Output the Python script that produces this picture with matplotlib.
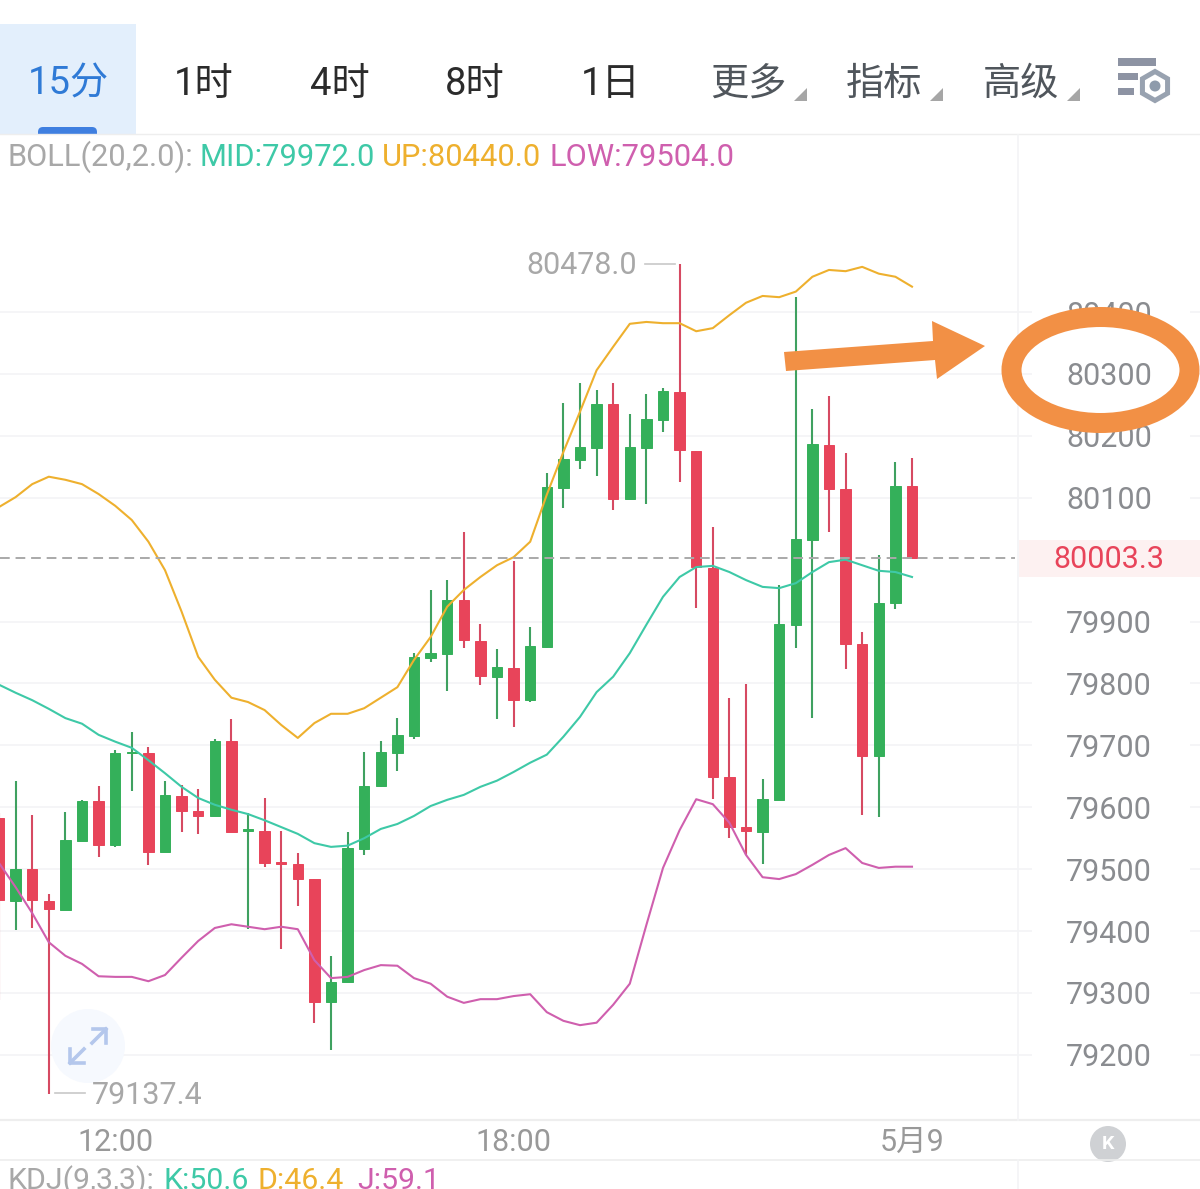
#!/usr/bin/python3
import numpy as np
import matplotlib
matplotlib.use('Agg')
import matplotlib.pyplot as plt
from matplotlib.patches import Rectangle, Ellipse, Polygon, Circle, RegularPolygon, FancyBboxPatch

plt.rcParams['font.family'] = ['Roboto', 'Noto Sans CJK SC', 'DejaVu Sans']

# candles, oldest first
Open = [79583, 79449, 79500, 79449, 79434, 79546, 79610, 79539, 79688, 79688, 79528, 79618, 79594, 79586,
        79707, 79562, 79562, 79512, 79508, 79484, 79286, 79318, 79533, 79634, 79688, 79715, 79841, 79848,
        79935, 79869, 79811, 79825, 79773, 79859, 80116, 80161, 80181, 80252, 80098, 80181, 80226, 80271,
        80176, 79987, 79649, 79568, 79560, 79612, 79895, 80032, 80185, 80114, 79864, 79683, 79930, 80119]
Close = [79450, 79500, 79450, 79436, 79547, 79610, 79539, 79688, 79689, 79528, 79620, 79594, 79586, 79707,
         79560, 79565, 79510, 79508, 79484, 79286, 79318, 79534, 79634, 79689, 79717, 79843, 79849, 79935,
         79870, 79812, 79827, 79773, 79861, 80117, 80163, 80182, 80252, 80098, 80182, 80227, 80273, 80177,
         79988, 79649, 79568, 79562, 79613, 79896, 80034, 80187, 80114, 79864, 79683, 79930, 80119, 80003.3]
High = [79591, 79643, 79588, 79460, 79592, 79612, 79634, 79693, 79722, 79697, 79643, 79636, 79630, 79710,
        79743, 79591, 79615, 79562, 79526, 79484, 79360, 79560, 79689, 79707, 79744, 79849, 79951, 79967,
        80045, 79896, 79856, 79998, 79891, 80140, 80253, 80286, 80274, 80286, 80235, 80268, 80277, 80478.0,
        80176, 80053, 79777, 79799, 79646, 79959, 80424, 80243, 80265, 80172, 79883, 80008, 80158, 80164]
Low = [79289, 79402, 79405, 79137.4, 79434, 79546, 79520, 79536, 79626, 79507, 79528, 79560, 79557, 79586,
       79560, 79403, 79504, 79371, 79441, 79252, 79208, 79318, 79523, 79633, 79659, 79710, 79835, 79788,
       79857, 79798, 79743, 79730, 79770, 79857, 80084, 80147, 80135, 80080, 80098, 80090, 80206, 80126,
       79922, 79613, 79550, 79523, 79508, 79612, 79857, 79744, 80045, 79823, 79588, 79584, 79920, 80003.3]

# bollinger bands
Up = [80085, 80101, 80122, 80134, 80129, 80122, 80106, 80087, 80064, 80029, 79983, 79916, 79843, 79806,
      79777, 79770, 79757, 79733, 79712, 79736, 79751, 79751, 79760, 79777, 79794, 79838, 79875, 79924,
      79951, 79972, 79991, 80004, 80029, 80105, 80174, 80239, 80306, 80344, 80381, 80384, 80382, 80382,
      80369, 80374, 80395, 80415, 80426, 80424, 80433, 80457, 80468, 80466, 80473, 80462, 80457, 80441]
Mid = [79798, 79785, 79773, 79759, 79744, 79735, 79717, 79706, 79696, 79676, 79655, 79633, 79615, 79604,
       79596, 79589, 79579, 79568, 79557, 79542, 79536, 79538, 79550, 79565, 79573, 79586, 79602, 79612,
       79620, 79633, 79643, 79657, 79672, 79685, 79714, 79746, 79786, 79811, 79849, 79895, 79940, 79972,
       79988, 79990, 79980, 79967, 79956, 79954, 79962, 79980, 79996, 80000, 79991, 79982, 79980, 79972]
Lower = [79510, 79471, 79429, 79382, 79360, 79347, 79327, 79326, 79326, 79319, 79329, 79357, 79384, 79405,
         79411, 79407, 79403, 79407, 79403, 79353, 79324, 79326, 79337, 79345, 79344, 79324, 79315, 79294,
         79284, 79290, 79290, 79295, 79298, 79269, 79255, 79248, 79252, 79281, 79315, 79410, 79502, 79563,
         79613, 79605, 79575, 79523, 79487, 79484, 79492, 79507, 79523, 79534, 79510, 79502, 79504, 79504]

PriceTicks = [79200, 79300, 79400, 79500, 79600, 79700, 79800, 79900, 80100, 80200, 80300, 80400]
TimeTicks = [7, 31, 55]
TimeLabels = ['12:00', '18:00', '5月9']
LastPrice = 80003.3
TabsDark = ['1时', '4时', '8时', '1日']
TabsGrey = ['更多', '指标', '高级']

GREEN = '#34b05a'
RED = '#e8445a'
TEAL = '#3ec9a7'
YELLOW = '#eeb02e'
MAGENTA = '#cf5fae'
GREY = '#a8a8a8'
ORANGE = '#f29045'
LINE = '#f3f4f6'

W, H = 1200, 1189
fig = plt.figure(figsize=(12, 11.89), dpi=100)

###################################################################################################
# KLINE PANEL
ax = fig.add_axes([0, (H - 1120) / H, 1, 985 / H])
ax.set_xlim(1 / 16.6, 1201 / 16.6)
ax.set_ylim(79094.8, 80686)
for s in ax.spines.values():
    s.set_visible(False)
ax.patch.set_alpha(0)

Xray = np.arange(len(Open))
Opn = np.array(Open)
Cls = np.array(Close)
up = Cls >= Opn
Colors = np.where(up, GREEN, RED)
WickColors = np.where(up, '#3fa160', '#d64a62')

ax.hlines(PriceTicks, 0, 1032 / W, transform=ax.get_yaxis_transform(), color=LINE, lw=1.2, zorder=1)
ax.hlines(PriceTicks, 1190 / W, 1, transform=ax.get_yaxis_transform(), color=LINE, lw=1.2, zorder=1)

ax.vlines(Xray, Low, High, colors=WickColors, lw=1.5, zorder=2)
ax.bar(Xray, np.abs(Cls - Opn), 0.63, bottom=np.minimum(Opn, Cls), color=Colors, edgecolor=Colors, lw=0.7, zorder=3)

ax.plot(Xray, Up, color=YELLOW, lw=1.5, zorder=4)
ax.plot(Xray, Mid, color=TEAL, lw=1.5, zorder=4)
ax.plot(Xray, Lower, color=MAGENTA, lw=1.5, zorder=4)

# last price line
ax.plot([0, 1015 / W], [LastPrice, LastPrice], transform=ax.get_yaxis_transform(), color='#a9a9a9',
        lw=1.4, dashes=(5, 3), zorder=5)

ax.yaxis.tick_right()
ax.set_yticks(PriceTicks)
ax.set_yticklabels([str(p) for p in PriceTicks], fontsize=22, color='#8a8c90', ha='center')
ax.tick_params(axis='y', length=0, pad=-65.5)
ax.set_xticks(TimeTicks)
ax.set_xticklabels(TimeLabels, fontsize=22, color='#999999')
ax.tick_params(axis='x', length=0, pad=6)

###################################################################################################
# OVERLAY, pixel coordinates
ov = fig.add_axes([0, 0, 1, 1], zorder=5)
ov.set_xlim(0, W)
ov.set_ylim(H, 0)
ov.axis('off')
ov.patch.set_alpha(0)

def T(x, y, s, color, size=22, ha='center', **kw):
    return ov.text(x, y, s, color=color, fontsize=size, ha=ha, va='center', **kw)

# frame lines
ov.plot([0, W], [134, 134], color='#eeeeee', lw=1.0)
ov.plot([0, W], [1120, 1120], color='#eeeeee', lw=1.6)
ov.plot([0, W], [1160, 1160], color='#eeeeee', lw=1.2)
ov.plot([1018, 1018], [135, 1120], color=LINE, lw=1.2)
ov.plot([1018, 1018], [1160, H], color=LINE, lw=1.2)

# tab bar
ov.add_patch(Rectangle((0, 24), 136, 110, color='#e3effc', lw=0))
ov.add_patch(FancyBboxPatch((38, 127), 59, 12, boxstyle='round,pad=0,rounding_size=5', color='#3f7fe0', lw=0))
ov.add_patch(Rectangle((36, 134), 64, 7, color='white', lw=0))
T(68, 84, '15分', '#2f7ad6', 27.5)
for x, s in zip([204, 340, 475, 611], TabsDark):
    T(x, 84, s, '#2b2b2b', 27.5)
for x, s in zip([748, 884, 1021], TabsGrey):
    T(x, 84, s, '#50565c', 27.5)
for x in [794, 930, 1067]:
    ov.add_patch(Polygon([(x + 13, 88), (x + 13, 101), (x, 101)], color='#a6a6a6', lw=0))

# settings icon
ov.add_patch(Rectangle((1118, 58), 38, 8, color='#8d93a3', lw=0))
ov.add_patch(Rectangle((1118, 73), 20, 7, color='#8d93a3', lw=0))
ov.add_patch(Rectangle((1118, 88), 16, 7, color='#8d93a3', lw=0))
ov.add_patch(RegularPolygon((1155, 86), 6, radius=14.5, facecolor='white', edgecolor='#98a2b0', lw=3.6))
ov.add_patch(Circle((1155, 86), 5.5, color='#8e9bab', lw=0))

# indicator header rows
for x, s, c in [(8, 'BOLL(20,2.0):', GREY), (200, 'MID:79972.0', TEAL), (382, 'UP:80440.0', YELLOW), (549, 'LOW:79504.0', MAGENTA)]:
    T(x, 157, s, c, 22.2, ha='left')
for x, s, c in [(8, 'KDJ(9,3,3):', GREY), (163, 'K:50.6', TEAL), (258, 'D:46.4', YELLOW), (357, 'J:59.1', MAGENTA)]:
    T(x, 1181, s, c, 21.8, ha='left')

# high / low labels
T(637, 266, '80478.0', GREY, 22, ha='right')
ov.plot([645, 675], [264, 264], color='#c8c8c8', lw=1.2)
T(92, 1096, '79137.4', GREY, 22, ha='left')
ov.plot([55, 85], [1093, 1093], color='#c8c8c8', lw=1.2)

# last price tag
ov.add_patch(Rectangle((1019, 540), 181, 37, color='#fdf1f1', lw=0))
T(1109, 560, '80003.3', RED, 22)

# expand button
ov.add_patch(Circle((88, 1046), 37, color='#f6f9fe', lw=0, zorder=0.5))
ov.plot([93, 106, 106], [1029, 1029, 1043], color='#b4c7ec', lw=2.6, zorder=3)
ov.plot([92, 106], [1043, 1029], color='#b4c7ec', lw=2.6, zorder=3)
ov.plot([70, 70, 84], [1049, 1063, 1063], color='#b4c7ec', lw=2.6, zorder=3)
ov.plot([70, 84], [1063, 1049], color='#b4c7ec', lw=2.6, zorder=3)

# K button
ov.add_patch(Circle((1108, 1144), 18, color='#cfd1d4', lw=0))
T(1108, 1144, 'K', 'white', 14, fontweight='bold')

# hand drawn marks on the screenshot
ov.add_patch(Polygon([(784, 352), (933, 341), (932, 321), (985, 346), (937, 379), (935, 360), (786, 371)],
                     color=ORANGE, lw=0, zorder=6))
ov.add_patch(Ellipse((1100.5, 370), 178, 106, facecolor='none', edgecolor=ORANGE, lw=14.4, zorder=6))

fig.savefig('out.png', dpi=100)
